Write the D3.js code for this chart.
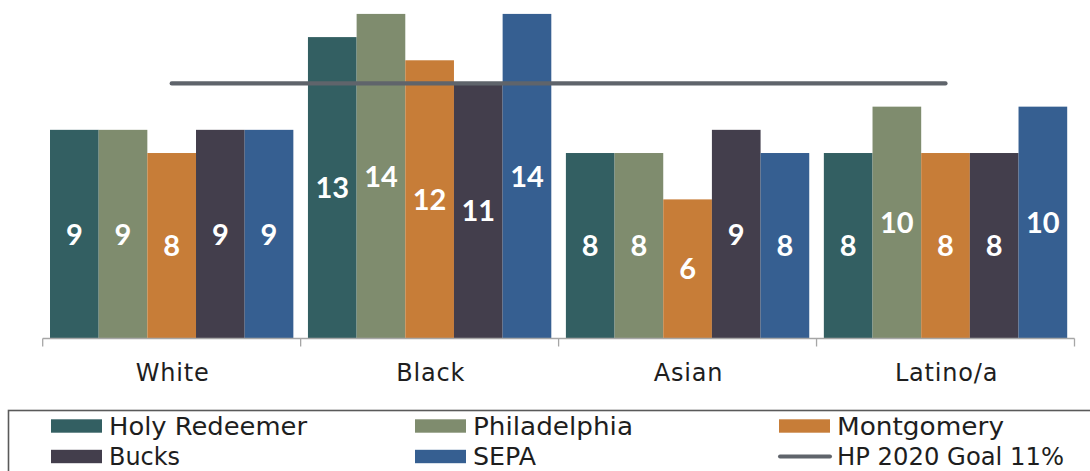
<!DOCTYPE html>
<html>
<head>
<meta charset="utf-8">
<script src="https://cdn.jsdelivr.net/npm/d3@7"></script>
<style>
  html, body { margin: 0; padding: 0; background: #ffffff; }
  svg { display: block; }
</style>
</head>
<body>
<svg id="chart" width="1090" height="471"></svg>
<script>
// ---- data ----
const categories = ["White", "Black", "Asian", "Latino/a"];
const seriesNames = ["Holy Redeemer", "Philadelphia", "Montgomery", "Bucks", "SEPA"];
const holyRedeemer = [9, 13, 8, 8];
const philadelphia = [9, 14, 8, 10];
const montgomery   = [8, 12, 6, 8];
const bucks        = [9, 11, 9, 8];
const sepa         = [9, 14, 8, 10];
const goalLabel = "HP 2020 Goal 11%";
const goalValue = 11;

const seriesValues = [holyRedeemer, philadelphia, montgomery, bucks, sepa];
const colors = ["#335f62", "#7f8c6e", "#c77d38", "#433e4c", "#365f91"];
const goalColor = "#5f646b";

const svg = d3.select("#chart");

const x0 = d3.scaleBand().domain(categories).range([42.7, 1074.5]).paddingInner(0).paddingOuter(0);
const bw = x0.bandwidth();
const x1 = d3.scaleBand().domain(seriesNames).range([7.3, bw - 7.3]).padding(0);
const y = d3.scaleLinear().domain([0, 14.6]).range([338.5, 0]);

// bars
const rows = [];
categories.forEach((c, ci) => {
  seriesNames.forEach((s, si) => {
    rows.push({cat: c, series: s, value: seriesValues[si][ci], color: colors[si]});
  });
});

const g = svg.append("g");
g.selectAll("rect.bar").data(rows).enter().append("rect")
  .attr("class", "bar")
  .attr("x", d => x0(d.cat) + x1(d.series))
  .attr("y", d => y(d.value))
  .attr("width", x1.bandwidth())
  .attr("height", d => y(0) - y(d.value))
  .attr("fill", d => d.color);

// axis
const axis = d3.axisBottom(x0).tickSize(0).tickFormat("");
const ax = svg.append("g").attr("transform", `translate(0,${y(0)})`).call(axis);
ax.select(".domain").remove();
ax.selectAll(".tick").remove();
svg.append("line")
  .attr("x1", x0.range()[0]).attr("x2", x0.range()[1])
  .attr("y1", y(0)).attr("y2", y(0))
  .attr("stroke", "#a6a6a6").attr("stroke-width", 1.3);
const bounds = categories.map(c => x0(c)).concat([x0.range()[1]]);
svg.selectAll("line.tk").data(bounds).enter().append("line")
  .attr("class", "tk")
  .attr("x1", d => d).attr("x2", d => d)
  .attr("y1", y(0)).attr("y2", y(0) + 8)
  .attr("stroke", "#a6a6a6").attr("stroke-width", 1.3);

svg.selectAll("text.cat").data(categories).enter().append("text")
  .attr("class", "cat")
  .attr("x", d => x0(d) + bw / 2 + 1)
  .attr("y", 380.5)
  .attr("text-anchor", "middle")
  .attr("font-family", "DejaVu Sans, sans-serif")
  .attr("font-size", 24)
  .attr("letter-spacing", 0.8)
  .attr("fill", "#1e1e1e")
  .text(d => d);

// value labels
g.selectAll("text.val").data(rows).enter().append("text")
  .attr("class", "val")
  .attr("x", d => x0(d.cat) + x1(d.series) + x1.bandwidth() / 2)
  .attr("y", d => (y(d.value) + y(0)) / 2)
  .attr("dy", "0.36em")
  .attr("text-anchor", "middle")
  .attr("font-family", "Lato, sans-serif")
  .attr("font-weight", "bold")
  .attr("font-size", 29)
  .attr("fill", "#ffffff")
  .text(d => d.value);

// goal line
svg.append("line")
  .attr("x1", x0(categories[0]) + bw / 2)
  .attr("x2", x0(categories[categories.length - 1]) + bw / 2)
  .attr("y1", y(goalValue)).attr("y2", y(goalValue))
  .attr("stroke", goalColor).attr("stroke-width", 4.2)
  .attr("stroke-linecap", "round");

// legend
svg.append("rect")
  .attr("x", 8.5).attr("y", 410.5).attr("width", 1100).attr("height", 100)
  .attr("fill", "none").attr("stroke", "#5a5a5a").attr("stroke-width", 1.6);

const legendItems = [
  {name: seriesNames[0], color: colors[0], type: "rect", x: 51, row: 0, len: 198},
  {name: seriesNames[1], color: colors[1], type: "rect", x: 415, row: 0, len: 160},
  {name: seriesNames[2], color: colors[2], type: "rect", x: 779, row: 0, len: 167},
  {name: seriesNames[3], color: colors[3], type: "rect", x: 51, row: 1, len: 71},
  {name: seriesNames[4], color: colors[4], type: "rect", x: 415, row: 1, len: 63},
  {name: goalLabel, color: goalColor, type: "line", x: 779, row: 1, len: 227}
];
const rowY = [426, 456.5];
const lg = svg.selectAll("g.leg").data(legendItems).enter().append("g").attr("class", "leg");
lg.each(function(d) {
  const s = d3.select(this);
  if (d.type === "rect") {
    s.append("rect").attr("x", d.x).attr("y", rowY[d.row] - 6.7)
      .attr("width", 51).attr("height", 13.4).attr("fill", d.color);
  } else {
    s.append("line").attr("x1", d.x + 1).attr("x2", d.x + 51)
      .attr("y1", rowY[d.row]).attr("y2", rowY[d.row])
      .attr("stroke", d.color).attr("stroke-width", 4).attr("stroke-linecap", "round");
  }
  const t = s.append("text").attr("x", d.x + 58).attr("y", rowY[d.row] + 8.5)
    .attr("font-family", "DejaVu Sans, sans-serif").attr("font-size", 24)
    .attr("fill", "#1e1e1e").text(d.name);
  if (d.len) t.attr("textLength", d.len).attr("lengthAdjust", "spacingAndGlyphs");
});
</script>
</body>
</html>
